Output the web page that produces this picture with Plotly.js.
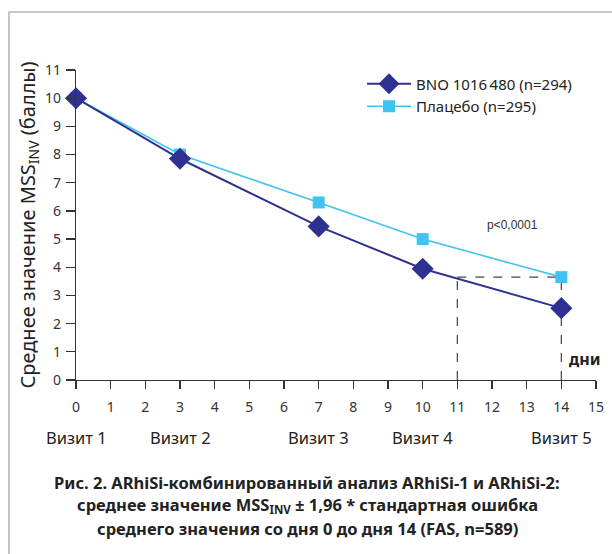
<!DOCTYPE html>
<html>
<head>
<meta charset="utf-8">
<script src="https://cdn.plot.ly/plotly-3.0.1.min.js"></script>
<style>html,body{margin:0;padding:0;background:#fff;}#chart{width:612px;height:554px;}</style>
</head>
<body>
<div id="chart"></div>
<script>
// ---- data ----
const days = [0, 3, 7, 10, 14];
const visitLabels = ["Визит 1", "Визит 2", "Визит 3", "Визит 4", "Визит 5"];
const bnoValues = [10.0, 7.85, 5.45, 3.95, 2.55];
const placeboValues = [10.0, 8.0, 6.3, 5.0, 3.65];
const seriesNames = ["BNO 1016\u2009480 (n=294)", "Плацебо (n=295)"];
const crossDay = 11;
const xTicks = [0,1,2,3,4,5,6,7,8,9,10,11,12,13,14,15];
const yTicks = [0,1,2,3,4,5,6,7,8,9,10,11];
const pText = "p<0,0001";
const unitText = "дни";
const yTitle = "Среднее значение MSS<sub>INV</sub> (баллы)";
const captionLines = [
  "Рис. 2. ARhiSi-комбинированный анализ ARhiSi-1 и ARhiSi-2:",
  "среднее значение MSS<sub>INV</sub> ± 1,96 * стандартная ошибка",
  "среднего значения со дня 0 до дня 14 (FAS, n=589)"
];

const FONT = "Noto Sans, Open Sans, DejaVu Sans, sans-serif";
const dark = "#2e3192";
const light = "#3fc3f1";
const lastPlacebo = placeboValues[placeboValues.length - 1];
const lastDay = days[days.length - 1];

const traces = [
  {
    x: days, y: bnoValues, name: seriesNames[0], type: "scatter", mode: "lines+markers",
    line: {color: dark, width: 2}, marker: {symbol: "diamond", size: 17, color: dark},
    cliponaxis: false
  },
  {
    x: days, y: placeboValues, name: seriesNames[1], type: "scatter", mode: "lines+markers",
    line: {color: light, width: 1.6}, marker: {symbol: "square", size: 12, color: light},
    cliponaxis: false
  }
];
traces.reverse();

const shapes = [
  {type: "line", xref: "x", yref: "y", x0: crossDay, x1: lastDay, y0: lastPlacebo, y1: lastPlacebo,
   line: {color: "#444", width: 1.2, dash: "dash"}, layer: "below"},
  {type: "line", xref: "x", yref: "y", x0: crossDay, x1: crossDay, y0: 0, y1: lastPlacebo,
   line: {color: "#444", width: 1.2, dash: "dash"}, layer: "below"},
  {type: "line", xref: "x", yref: "y", x0: lastDay, x1: lastDay, y0: 0, y1: lastPlacebo,
   line: {color: "#444", width: 1.2, dash: "dash"}, layer: "below"},
  {type: "line", xref: "paper", yref: "paper", x0: -0.129, x1: -0.129, y0: 1.187, y1: -0.6,
   line: {color: "#b4b4b4", width: 1.5}},
  {type: "line", xref: "paper", yref: "paper", x0: -0.129, x1: 1.05, y0: 1.187, y1: 1.187,
   line: {color: "#b4b4b4", width: 1.5}}
];

const annotations = [];
days.forEach((d, i) => {
  annotations.push({x: d, y: -0.184, xref: "x", yref: "paper", text: visitLabels[i],
    showarrow: false, xanchor: "center", yanchor: "middle",
    font: {family: FONT, size: 16.5, color: "#222"}});
});
annotations.push({x: 12.6, y: 5.5, xref: "x", yref: "y", text: pText.replace("<", "&lt;"),
  showarrow: false, xanchor: "center", font: {family: "Liberation Sans, Arial, sans-serif", size: 12, color: "#333"}});
annotations.push({x: 14.15, y: 0.75, xref: "x", yref: "y", text: "<b>" + unitText + "</b>",
  showarrow: false, xanchor: "left", font: {family: FONT, size: 16, color: "#222"}});
captionLines.forEach((t, i) => {
  annotations.push({x: 0.445, y: -0.33 - i * 0.074, xref: "paper", yref: "paper", text: "<b>" + t + "</b>",
    showarrow: false, xanchor: "center", yanchor: "middle",
    font: {family: FONT, size: 16.5, color: "#222"}});
});

const layout = {
  width: 612, height: 554,
  margin: {l: 76, r: 16, t: 70, b: 174},
  paper_bgcolor: "#fff", plot_bgcolor: "#fff",
  showlegend: true,
  legend: {x: 0.55, y: 1.008, xanchor: "left", yanchor: "top", bgcolor: "rgba(0,0,0,0)",
    font: {family: FONT, size: 15, color: "#222"}, traceorder: "reversed", itemwidth: 44, tracegroupgap: 0},
  xaxis: {
    range: [0, 15], tickvals: xTicks, ticktext: xTicks.map(String),
    showgrid: false, zeroline: false, showline: true, linecolor: "#333", linewidth: 1.2,
    ticks: "outside", ticklen: 8, tickcolor: "#333", tickwidth: 1.2, ticklabelstandoff: 6,
    tickfont: {family: FONT, size: 14, color: "#333"}
  },
  yaxis: {
    range: [0, 11], tickvals: yTicks, ticktext: yTicks.map(String),
    showgrid: false, zeroline: false, showline: true, linecolor: "#333", linewidth: 1.2,
    ticks: "outside", ticklen: 9, tickcolor: "#333", tickwidth: 1.2, ticklabelstandoff: 2,
    tickfont: {family: FONT, size: 14, color: "#333"},
    title: {text: yTitle, font: {family: FONT, size: 20, color: "#222"}, standoff: 4}
  },
  shapes: shapes,
  annotations: annotations
};

Plotly.newPlot("chart", traces, layout, {displayModeBar: false, staticPlot: true});
</script>
</body>
</html>
